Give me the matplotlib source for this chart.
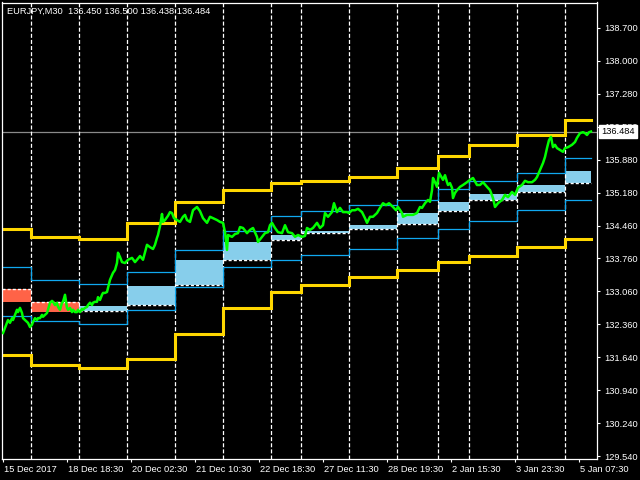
import numpy as np
import matplotlib
matplotlib.use("Agg")
import matplotlib.pyplot as plt
import matplotlib.transforms as mtransforms
from matplotlib.patches import Rectangle

plt.rcParams['font.family'] = ['Liberation Sans', 'DejaVu Sans']
plt.rcParams['lines.scale_dashes'] = False

# ---------------- data ----------------
title_text = "EURJPY,M30  136.450 136.500 136.438 136.484"
current_price = 136.484

day_names = ["15 Dec", "18 Dec", "19 Dec", "20 Dec", "21 Dec", "22 Dec", "26 Dec",
             "27 Dec", "28 Dec", "29 Dec", "2 Jan", "3 Jan", "4 Jan", "5 Jan"]
day_bars = [29, 48, 48, 48, 48, 48, 30, 48, 48, 41, 31, 48, 48, 26]

yellow_hi = [134.405, 134.233, 134.191, 134.533, 134.983, 135.239, 135.376,
             135.432, 135.518, 135.710, 135.967, 136.190, 136.417, 136.731]
blue_hi = [133.579, 133.300, 133.215, 133.472, 133.942, 134.349, 134.670,
           134.783, 134.905, 135.012, 135.248, 135.419, 135.597, 135.911]
blue_lo = [132.530, 132.423, 132.359, 132.658, 133.163, 133.579, 133.728,
           133.835, 133.964, 134.199, 134.398, 134.563, 134.798, 135.012]
yellow_lo = [131.702, 131.488, 131.430, 131.622, 132.157, 132.714, 133.056,
             133.206, 133.377, 133.527, 133.698, 133.827, 134.007, 134.191]
box_open = [133.114, 132.842, 132.643, 132.772, 133.193, 133.728, 134.163,
            134.306, 134.398, 134.505, 134.783, 135.019, 135.190, 135.376]
box_close = [132.836, 132.628, 132.750, 133.178, 133.735, 134.120, 134.270,
             134.349, 134.484, 134.741, 134.976, 135.147, 135.340, 135.640]

price_bar = [1, 3, 5, 6, 8, 10, 11, 13, 15, 16, 18, 20, 21, 23, 25, 26, 28, 30, 31, 33,
             35, 36, 38, 40, 41, 43, 45, 46, 48, 50, 51, 53, 55, 56, 58, 60, 61, 63, 65, 66,
             68, 70, 71, 73, 75, 76, 78, 80, 81, 83, 85, 86, 88, 90, 91, 93, 95, 96, 98, 100,
             101, 103, 105, 108, 111, 113, 115, 116, 118, 120, 123, 126, 130, 133, 135, 138,
             141, 145, 148, 151, 153, 155, 156, 158, 160, 161, 163, 166, 168, 170, 172, 175,
             178, 181, 183, 185, 188, 191, 195, 198, 201, 205, 208, 211, 215, 218, 221, 223,
             225, 226, 230, 233, 236, 238, 241, 245, 248, 251, 255, 256, 260, 263, 266, 268,
             270, 273, 276, 280, 283, 286, 290, 293, 296, 300, 303, 305, 308, 311, 315, 318,
             321, 323, 326, 330, 332, 335, 338, 341, 345, 347, 350, 353, 356, 360, 363, 365,
             368, 371, 375, 378, 381, 384, 387, 391, 394, 396, 400, 401, 405, 408, 411, 415,
             418, 420, 423, 426, 428, 430, 431, 433, 435, 437, 440, 441, 443, 445, 446, 448,
             450, 451, 453, 455, 458, 461, 465, 468, 471, 475, 478, 481, 485, 488, 491, 493,
             496, 500, 503, 506, 510, 513, 516, 520, 523, 526, 530, 533, 535, 538, 541, 543,
             545, 547, 549, 551, 553, 555, 558, 561, 563, 566, 570, 573, 575, 578, 581, 583,
             585, 587, 589]
price_close = [132.17, 132.28, 132.39, 132.45, 132.39, 132.49, 132.45, 132.56, 132.67, 132.62,
               132.71, 132.60, 132.49, 132.45, 132.41, 132.39, 132.30, 132.35, 132.41, 132.49,
               132.45, 132.49, 132.49, 132.56, 132.52, 132.56, 132.60, 132.67, 132.82, 132.86,
               132.84, 132.77, 132.82, 132.73, 132.67, 132.82, 132.84, 132.99, 132.71, 132.67,
               132.71, 132.62, 132.67, 132.62, 132.62, 132.67, 132.62, 132.69, 132.67, 132.71,
               132.73, 132.77, 132.82, 132.77, 132.82, 132.84, 132.84, 132.94, 132.88, 132.99,
               133.03, 133.03, 133.05, 133.31, 133.46, 133.52, 133.67, 133.89, 133.80, 133.69,
               133.67, 133.74, 133.78, 133.69, 133.74, 133.82, 133.74, 134.06, 134.01, 133.97,
               134.06, 134.21, 134.27, 134.46, 134.72, 134.55, 134.59, 134.68, 134.76, 134.74,
               134.63, 134.59, 134.55, 134.66, 134.70, 134.59, 134.55, 134.80, 134.87, 134.78,
               134.63, 134.53, 134.66, 134.63, 134.59, 134.55, 134.53, 134.33, 133.95, 134.27,
               134.23, 134.29, 134.31, 134.44, 134.42, 134.31, 134.38, 134.42, 134.23, 134.12,
               134.23, 134.31, 134.33, 134.48, 134.53, 134.42, 134.33, 134.31, 134.48, 134.33,
               134.31, 134.23, 134.27, 134.23, 134.25, 134.42, 134.38, 134.42, 134.53, 134.42,
               134.48, 134.74, 134.66, 134.76, 134.95, 134.76, 134.85, 134.76, 134.76, 134.74,
               134.80, 134.80, 134.83, 134.76, 134.63, 134.53, 134.66, 134.66, 134.74, 134.85,
               134.95, 134.91, 134.95, 134.87, 134.80, 134.87, 134.74, 134.66, 134.70, 134.70,
               134.70, 134.74, 134.87, 134.85, 134.95, 135.02, 134.98, 135.23, 135.49, 135.40,
               135.30, 135.60, 135.49, 135.45, 135.55, 135.40, 135.34, 135.38, 135.28, 135.06,
               135.17, 135.23, 135.30, 135.34, 135.40, 135.45, 135.49, 135.34, 135.34, 135.40,
               135.30, 135.23, 135.06, 134.87, 134.95, 135.02, 135.13, 135.08, 135.19, 135.13,
               135.28, 135.34, 135.43, 135.40, 135.40, 135.45, 135.51, 135.66, 135.81, 135.94,
               136.13, 136.30, 136.37, 136.15, 136.20, 136.13, 136.09, 136.05, 136.13, 136.15,
               136.20, 136.26, 136.35, 136.45, 136.47, 136.45, 136.41, 136.47, 136.484]

ytick_labels = ["129.540", "130.240", "130.940", "131.640", "132.360", "133.060", "133.760",
                "134.460", "135.180", "135.880", "136.580", "137.280", "138.000", "138.700"]
xtick_labels = ["15 Dec 2017", "18 Dec 18:30", "20 Dec 02:30", "21 Dec 10:30", "22 Dec 18:30",
                "27 Dec 11:30", "28 Dec 19:30", "2 Jan 15:30", "3 Jan 23:30", "5 Jan 07:30"]
xtick_bars = [1, 65, 129, 193, 257, 321, 385, 449, 513, 577]

# ---------------- figure ----------------
W, H = 640, 480
fig = plt.figure(figsize=(6.4, 4.8), dpi=100, facecolor='black')
ax = fig.add_axes([2 / W, 21 / H, 595 / W, 456.5 / H])
ax.set_facecolor('black')

px = 9.16 / 428.0
ax.set_xlim(0, 595)
ax.set_ylim(129.54 - 3 * px, 129.54 + 453.5 * px)

day_starts = np.concatenate([[0], np.cumsum(day_bars)[:-1]])
last_bar = int(np.sum(day_bars))
step_x = np.append(day_starts, last_bar)

# boxes
for i, s in enumerate(day_starts):
    e = s + day_bars[i]
    o, c = box_open[i], box_close[i]
    col = '#87CEEB' if c >= o else '#FF6347'
    ax.add_patch(Rectangle((s, min(o, c)), e - s, abs(c - o), facecolor=col,
                           edgecolor='none', zorder=1))
    ax.plot([s, e], [o, o], color='white', lw=1.0, dashes=(2.2, 1.5), zorder=1.5)

# period separators
for s in day_starts[1:]:
    ax.axvline(s, color='white', lw=0.9, dashes=(2.9, 1.5), zorder=1.6)

# current price line
ax.axhline(current_price, color='#8a8a8a', lw=0.9, zorder=1.2)

def steps(vals, color, lw):
    ax.plot(step_x, list(vals) + [vals[-1]], drawstyle='steps-post', color=color, lw=lw,
            zorder=2, solid_joinstyle='miter')

steps(yellow_hi, '#FFD700', 2.2)
steps(yellow_lo, '#FFD700', 2.2)
steps(blue_hi, '#10A8F0', 0.9)
steps(blue_lo, '#10A8F0', 0.9)

ax.plot(price_bar, price_close, color='#00FF00', lw=1.8, zorder=3)

# axes styling
for sp in ax.spines.values():
    sp.set_color('white')
    sp.set_linewidth(0.9)

ax.yaxis.tick_right()
yt = np.linspace(129.54, 138.70, 14)
ax.set_yticks(yt)
ax.set_yticklabels(ytick_labels)
ax.set_xticks(xtick_bars)
ax.set_xticklabels(xtick_labels)
ax.tick_params(axis='both', colors='white', labelcolor='white', labelsize=6.7,
               length=2.5, width=0.8, direction='out')
ax.tick_params(axis='y', pad=2.5)
ax.tick_params(axis='x', pad=2)
off = mtransforms.ScaledTranslation(1.5 / 100, 0, fig.dpi_scale_trans)
for lbl in ax.get_xticklabels():
    lbl.set_ha('left')
    lbl.set_transform(lbl.get_transform() + off)

# price label
trans = mtransforms.blended_transform_factory(ax.transAxes, ax.transData)
ax.text(1.0 + 4 / 595, current_price, "136.484", transform=trans, ha='left', va='center',
        fontsize=6.7, color='black', zorder=10, clip_on=False,
        bbox=dict(boxstyle='square,pad=0.25', fc='white', ec='white'))

fig.text(7 / W, 1 - 11 / H, title_text, color='white', fontsize=6.7, ha='left', va='center')

fig.savefig('out.png', dpi=100, facecolor='black')
